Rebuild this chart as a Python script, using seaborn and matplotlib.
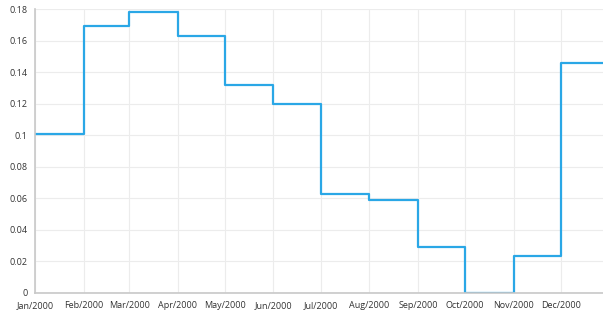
import pandas as pd
import matplotlib
matplotlib.use("Agg")
import matplotlib.pyplot as plt
import matplotlib.dates as mdates
from matplotlib.ticker import FuncFormatter, MultipleLocator
import seaborn as sns

# Monthly values (step chart)
months = ["2000-01-01", "2000-02-01", "2000-03-01", "2000-04-01", "2000-05-01", "2000-06-01",
          "2000-07-01", "2000-08-01", "2000-09-01", "2000-10-01", "2000-11-01", "2000-12-01",
          "2000-12-31"]
values = [0.101, 0.169, 0.178, 0.163, 0.132, 0.120,
          0.063, 0.059, 0.029, 0.0, 0.0235, 0.146,
          0.146]

df = pd.DataFrame({"date": pd.to_datetime(months), "value": values})

sns.set_style("white")
plt.rcParams["font.family"] = ["Open Sans", "DejaVu Sans"]

fig = plt.figure(figsize=(6.03, 3.13), dpi=100)
ax = fig.add_axes([0.058, 0.064, 0.942, 0.907])

sns.lineplot(data=df, x="date", y="value", ax=ax, color="#2aa7e6",
             linewidth=1.6, drawstyle="steps-post")

ax.set_xlim(pd.Timestamp("2000-01-01"), pd.Timestamp("2000-12-28"))
ax.set_ylim(0, 0.18)
ax.yaxis.set_major_locator(MultipleLocator(0.02))
ax.yaxis.set_major_formatter(FuncFormatter(lambda v, p: f"{round(v, 2):g}"))
ax.xaxis.set_major_locator(mdates.MonthLocator())
ax.xaxis.set_major_formatter(mdates.DateFormatter("%b/%Y"))

ax.grid(True, color="#ececec", linewidth=0.8)
ax.set_xlabel("")
ax.set_ylabel("")
for s in ["top", "right"]:
    ax.spines[s].set_visible(False)
for s in ["left", "bottom"]:
    ax.spines[s].set_color("#c8c8c8")
    ax.spines[s].set_linewidth(1.2)
ax.tick_params(axis="both", length=4, width=0.8, color="#b0b0b0",
               labelsize=6.5, labelcolor="#333333", pad=1.5)
ax.tick_params(axis="x", pad=2)

fig.savefig("out.png", dpi=100)
